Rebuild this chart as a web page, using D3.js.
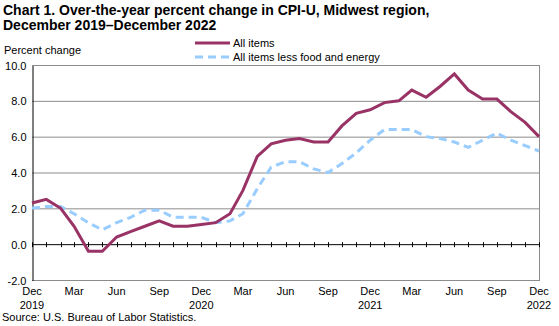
<!DOCTYPE html>
<html>
<head>
<meta charset="utf-8">
<script src="https://cdn.jsdelivr.net/npm/d3@7"></script>
<style>
  body { margin: 0; background: #fff; }
  svg text { font-family: "Liberation Sans", Arial, sans-serif; fill: #000; }
</style>
</head>
<body>
<svg id="chart" width="559" height="326"></svg>
<script>
// monthly, Dec 2019 .. Dec 2022
const months = d3.range(37).map(i => new Date(2019, 11 + i, 1));
const allItems = [
  2.3, 2.5, 2.0, 1.0, -0.4, -0.4, 0.4, 0.7, 1.0, 1.3, 1.0, 1.0, 1.1,
  1.2, 1.7, 3.0, 4.9, 5.6, 5.8, 5.9, 5.7, 5.7, 6.6, 7.3, 7.5,
  7.9, 8.0, 8.6, 8.2, 8.8, 9.5, 8.6, 8.1, 8.1, 7.4, 6.8, 6.0
];
const lessFoodEnergy = [
  2.0, 2.1, 2.1, 1.7, 1.2, 0.8, 1.2, 1.5, 1.9, 1.9, 1.5, 1.5, 1.5,
  1.2, 1.3, 1.7, 3.1, 4.3, 4.6, 4.6, 4.2, 4.0, 4.5, 5.1, 5.8,
  6.4, 6.4, 6.4, 6.0, 5.9, 5.7, 5.4, 5.8, 6.2, 5.8, 5.5, 5.2
];
const yTicks = [-2, 0, 2, 4, 6, 8, 10];
const seriesNames = ["All items", "All items less food and energy"];

const svg = d3.select("#chart");
const m = { left: 32, right: 539, top: 65, bottom: 280 };

const x = d3.scaleTime()
  .domain([months[0], months[months.length - 1]])
  .range([m.left, m.right]);
const y = d3.scaleLinear().domain([-2, 10]).range([m.bottom, m.top]);

// title
const title = svg.append("text")
  .attr("x", 3).attr("y", 15)
  .attr("font-size", "14px").attr("font-weight", "bold");
title.append("tspan").attr("x", 3).attr("dy", 0)
  .text("Chart 1. Over-the-year percent change in CPI-U, Midwest region,");
title.append("tspan").attr("x", 3).attr("dy", 15)
  .text("December 2019\u2013December 2022");

svg.append("text")
  .attr("x", 4).attr("y", 54)
  .attr("font-size", "11px")
  .text("Percent change");

// gridlines
svg.append("g")
  .selectAll("line")
  .data(yTicks.filter(d => d !== 0))
  .join("line")
  .attr("x1", m.left).attr("x2", m.right)
  .attr("y1", d => y(d) + 0.5).attr("y2", d => y(d) + 0.5)
  .attr("stroke", "#8c8c8c").attr("stroke-width", 1);

// right border
svg.append("line")
  .attr("x1", m.right + 0.5).attr("x2", m.right + 0.5)
  .attr("y1", m.top).attr("y2", m.bottom + 1)
  .attr("stroke", "#8c8c8c");

// y axis
const yAxis = svg.append("g")
  .attr("transform", `translate(${m.left + 0.5},0.5)`)
  .call(d3.axisLeft(y).tickValues(yTicks).tickSize(0).tickPadding(6)
    .tickFormat(d => d.toFixed(1)));
yAxis.select(".domain").attr("stroke", "#000");
yAxis.selectAll("text")
  .attr("font-size", "11px")
  .attr("font-family", "Liberation Sans, Arial, sans-serif")
  .attr("fill", "#000");

// zero line with monthly ticks
const zero = svg.append("g").attr("transform", `translate(0.5,${y(0) + 0.5})`);
zero.append("line")
  .attr("x1", m.left).attr("x2", m.right)
  .attr("stroke", "#000");
zero.selectAll("line.tick")
  .data(months)
  .join("line")
  .attr("class", "tick")
  .attr("x1", d => Math.round(x(d))).attr("x2", d => Math.round(x(d)))
  .attr("y1", -2.5).attr("y2", 2.5)
  .attr("stroke", "#000");

// x labels
const monthNames = ["Jan", "Feb", "Mar", "Apr", "May", "Jun", "Jul", "Aug", "Sep", "Oct", "Nov", "Dec"];
const labelMonths = months.filter((d, i) => i % 3 === 0);
svg.append("g")
  .selectAll("text")
  .data(labelMonths)
  .join("text")
  .attr("x", d => x(d))
  .attr("y", 295)
  .attr("text-anchor", "middle")
  .attr("font-size", "11px")
  .text(d => monthNames[d.getMonth()]);
svg.append("g")
  .selectAll("text")
  .data(labelMonths.filter(d => d.getMonth() === 11))
  .join("text")
  .attr("x", d => x(d))
  .attr("y", 309)
  .attr("text-anchor", "middle")
  .attr("font-size", "11px")
  .text(d => d.getFullYear());

// lines
const line = d3.line().x((d, i) => x(months[i])).y(d => y(d));
svg.append("path")
  .datum(lessFoodEnergy)
  .attr("d", line)
  .attr("fill", "none")
  .attr("stroke", "#99ccff")
  .attr("stroke-width", 3)
  .attr("stroke-dasharray", "8,5");
svg.append("path")
  .datum(allItems)
  .attr("d", line)
  .attr("fill", "none")
  .attr("stroke", "#993366")
  .attr("stroke-width", 3)
  .attr("stroke-linejoin", "miter");

// legend
const legend = svg.append("g");
const styles = [
  { color: "#993366", dash: null },
  { color: "#99ccff", dash: "8,5" }
];
seriesNames.forEach((name, i) => {
  const ly = 43 + i * 14;
  legend.append("line")
    .attr("x1", 195).attr("x2", 230)
    .attr("y1", ly).attr("y2", ly)
    .attr("stroke", styles[i].color)
    .attr("stroke-width", 3)
    .attr("stroke-dasharray", styles[i].dash);
  legend.append("text")
    .attr("x", 233).attr("y", ly + 4)
    .attr("font-size", "11px")
    .text(name);
});

svg.append("text")
  .attr("x", 2).attr("y", 321)
  .attr("font-size", "11px")
  .text("Source: U.S. Bureau of Labor Statistics.");
</script>
</body>
</html>
